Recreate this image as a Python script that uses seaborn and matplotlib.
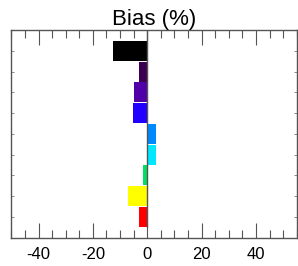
import numpy as np
import pandas as pd
import seaborn as sns
import matplotlib.pyplot as plt
from matplotlib.ticker import MultipleLocator

sns.set_theme(style="white")
plt.rcParams['font.family'] = ['Liberation Sans', 'DejaVu Sans']
plt.rcParams['axes.unicode_minus'] = False
plt.rcParams['text.color'] = 'black'

# bias per model, top to bottom
models = ["m1", "m2", "m3", "m4", "m5", "m6", "m7", "m8", "m9"]
bias = [-12.5, -2.9, -5.0, -5.4, 3.2, 3.2, -1.5, -7.0, -3.1]
colors = ["#000000", "#3c0050", "#5000a8", "#2200ff", "#0088ff",
          "#00e8ff", "#00e060", "#ffff00", "#ff0000"]

df = pd.DataFrame({"model": models, "bias": bias})

fig = plt.figure(figsize=(2.98, 2.66), dpi=100)
ax = fig.add_axes([0.038, 0.1064, 0.9576, 0.7806])

sns.barplot(data=df, x="bias", y="model", hue="model", palette=colors,
            orient="h", width=0.96, saturation=1, legend=False, ax=ax,
            edgecolor="none", linewidth=0)

ax.axvline(0, ymin=0.05, ymax=1, color="#555555", lw=1.0, zorder=3)

ax.set_xlim(-50, 55)
ax.set_ylim(9, -1)
ax.set_xlabel("")
ax.set_ylabel("")
ax.set_yticks(range(len(models)))
ax.set_yticklabels([])
ax.xaxis.set_major_locator(MultipleLocator(20))
ax.xaxis.set_minor_locator(MultipleLocator(5))
ax.tick_params(axis="x", which="major", direction="in", length=10.8, width=0.8,
               color="#555555", top=True, bottom=True, labelsize=12, pad=7,
               labelcolor="black")
ax.tick_params(axis="x", which="minor", direction="in", length=5.6, width=0.8,
               color="#555555", top=True, bottom=True)
ax.tick_params(axis="y", which="major", direction="in", length=2, width=0.6,
               color="#777777", left=True, right=True)

for s in ax.spines.values():
    s.set_color("#555555")
    s.set_linewidth(1.0)

ax.set_title("Bias (%)", fontsize=16, pad=3, color="black")

fig.savefig("out.png", dpi=100)
